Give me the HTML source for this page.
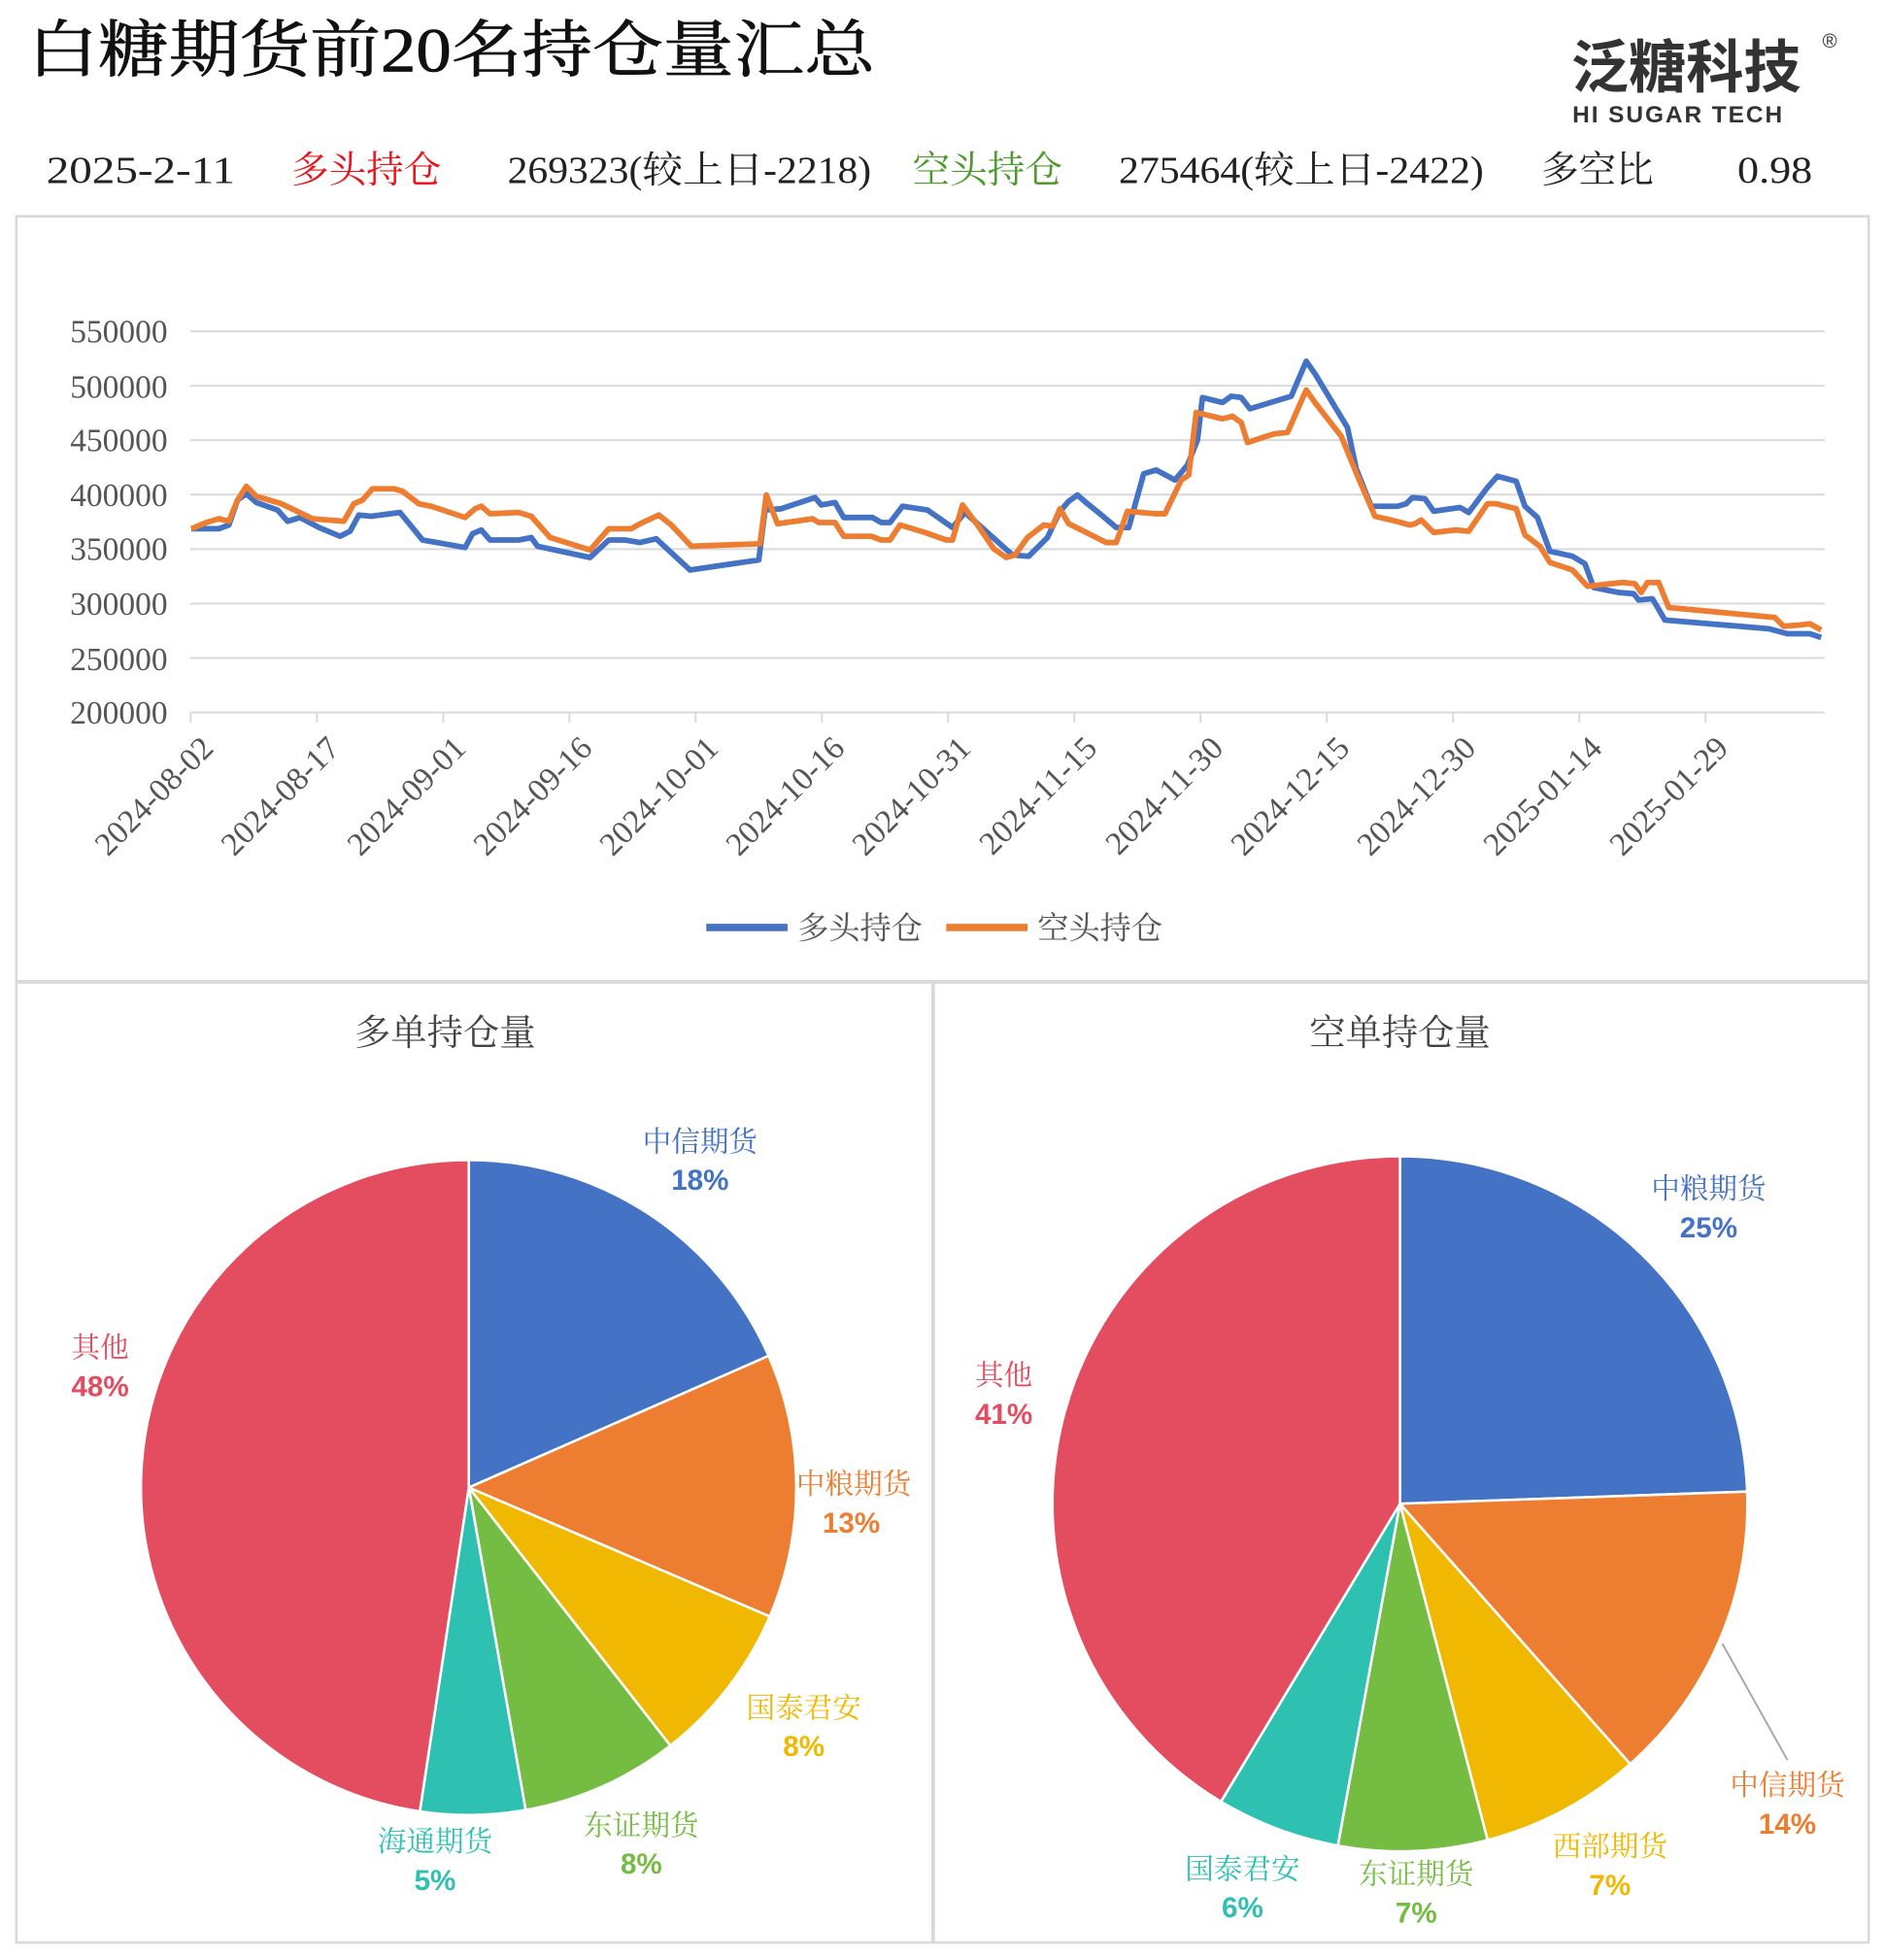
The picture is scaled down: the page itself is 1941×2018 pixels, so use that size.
<!DOCTYPE html>
<html><head><meta charset="utf-8"><style>
html,body{margin:0;padding:0;background:#fff;}
svg{display:block;}
text{font-family:"Liberation Serif","Noto Serif CJK SC","Noto Sans CJK SC",serif;}
.s{font-family:"Liberation Sans","Noto Sans CJK SC",sans-serif;}
</style></head><body>
<svg width="1941" height="2018" viewBox="0 0 1508 1568" xmlns="http://www.w3.org/2000/svg">
<rect width="1508" height="1568" fill="#fff"/>
<text x="22" y="57" font-size="50" fill="#111" textLength="678" lengthAdjust="spacingAndGlyphs" stroke="#111" stroke-width="0.6">白糖期货前20名持仓量汇总</text>
<text x="1257" y="70" font-size="46" font-weight="bold" fill="#333" class="s">泛糖科技</text>
<text x="1458" y="38" font-size="16" fill="#333" class="s">®</text>
<text x="1258" y="98" font-size="19" font-weight="bold" fill="#333" class="s" letter-spacing="1.5">HI SUGAR TECH</text>
<g font-size="30" fill="#222">
<text x="37" y="146" textLength="151" lengthAdjust="spacingAndGlyphs">2025-2-11</text>
<text x="233" y="146" fill="#e8161b">多头持仓</text>
<text x="406" y="146" textLength="291" lengthAdjust="spacingAndGlyphs">269323(较上日-2218)</text>
<text x="730" y="146" fill="#4f9a2e">空头持仓</text>
<text x="895" y="146" textLength="292" lengthAdjust="spacingAndGlyphs">275464(较上日-2422)</text>
<text x="1233" y="146">多空比</text>
<text x="1390" y="146" textLength="60" lengthAdjust="spacingAndGlyphs">0.98</text>
</g>
<g fill="none" stroke="#d9d9d9" stroke-width="2">
<rect x="13" y="173" width="1482" height="612"/>
<rect x="13" y="786" width="733" height="768"/>
<rect x="747" y="786" width="748" height="768"/>
</g>
<g stroke="#d9d9d9" stroke-width="1.5">
<line x1="152" y1="265" x2="1460" y2="265"/><line x1="152" y1="308.6" x2="1460" y2="308.6"/>
<line x1="152" y1="352.1" x2="1460" y2="352.1"/><line x1="152" y1="395.7" x2="1460" y2="395.7"/>
<line x1="152" y1="439.3" x2="1460" y2="439.3"/><line x1="152" y1="482.9" x2="1460" y2="482.9"/>
<line x1="152" y1="526.4" x2="1460" y2="526.4"/><line x1="152" y1="570" x2="1460" y2="570"/>
<path d="M152.5 570v8M253.5 570v8M354.5 570v8M455.5 570v8M556.5 570v8M657.5 570v8M758.5 570v8M859.5 570v8M960.5 570v8M1061.5 570v8M1162.5 570v8M1263.5 570v8M1364.5 570v8" fill="none"/>
</g>
<g class="s" font-size="26" fill="#555" text-anchor="end" font-family="Liberation Sans, sans-serif">
<text x="134" y="274">550000</text><text x="134" y="318">500000</text><text x="134" y="361">450000</text>
<text x="134" y="405">400000</text><text x="134" y="448">350000</text><text x="134" y="492">300000</text>
<text x="134" y="536">250000</text><text x="134" y="579">200000</text>
</g>
<g font-size="26" fill="#555" text-anchor="end" font-family="Liberation Sans, sans-serif">
<text transform="translate(172,600) rotate(-45)">2024-08-02</text>
<text transform="translate(273,600) rotate(-45)">2024-08-17</text>
<text transform="translate(374,600) rotate(-45)">2024-09-01</text>
<text transform="translate(475,600) rotate(-45)">2024-09-16</text>
<text transform="translate(576,600) rotate(-45)">2024-10-01</text>
<text transform="translate(677,600) rotate(-45)">2024-10-16</text>
<text transform="translate(778,600) rotate(-45)">2024-10-31</text>
<text transform="translate(879,600) rotate(-45)">2024-11-15</text>
<text transform="translate(980,600) rotate(-45)">2024-11-30</text>
<text transform="translate(1081,600) rotate(-45)">2024-12-15</text>
<text transform="translate(1182,600) rotate(-45)">2024-12-30</text>
<text transform="translate(1283,600) rotate(-45)">2025-01-14</text>
<text transform="translate(1384,600) rotate(-45)">2025-01-29</text>
</g>
<polyline fill="none" stroke="#4472c4" stroke-width="4.5" stroke-linejoin="round" points="153,423 175,423 183,420 190,400 197,395 205,402 222,408 230,417 240,414 255,422 272,429 280,425 287,412 297,413 320,410 338,432 372,438 378,427 385,424 392,432 415,432 425,430 430,437 472,446 487,432 500,432 512,434 525,431 552,456 607,448 612,408 625,407 652,398 657,404 668,402 675,414 698,414 705,418 712,418 722,405 742,408 762,422 772,410 791,427 810,444 823,445 838,430 848,409 855,401 862,396 870,403 880,411 893,422 903,422 915,379 925,376 940,384 950,372 958,352 962,318 978,322 985,317 993,318 1000,327 1033,317 1045,289 1052,299 1078,342 1085,375 1097,405 1118,405 1125,403 1130,398 1140,399 1147,409 1168,406 1175,410 1190,390 1198,381 1213,385 1220,405 1230,414 1240,441 1258,445 1268,451 1275,470 1295,474 1307,475 1311,480 1322,479 1332,496 1415,503 1430,507 1448,507 1457,510"/>
<polyline fill="none" stroke="#ed7d31" stroke-width="4.5" stroke-linejoin="round" points="153,423 165,418 175,415 183,417 190,400 197,389 205,397 225,403 250,415 262,416 275,417 283,403 290,400 298,391 315,391 322,393 335,403 345,405 372,414 380,407 385,405 392,411 415,410 425,413 440,430 472,440 487,423 505,423 512,419 527,412 537,420 553,437 608,435 613,396 622,419 650,415 655,418 668,418 675,429 697,429 705,432 712,432 720,420 740,426 757,432 762,432 770,404 782,420 795,439 805,446 812,444 822,430 835,420 842,421 848,407 855,419 867,425 885,434 893,434 902,409 925,411 932,411 945,384 951,380 957,330 978,335 986,333 993,338 998,354 1010,350 1020,347 1030,346 1045,312 1052,322 1073,349 1087,383 1100,413 1117,417 1128,420 1132,419 1137,416 1147,426 1165,424 1175,425 1190,403 1197,403 1213,407 1220,428 1232,437 1240,450 1258,456 1270,469 1298,466 1308,467 1313,474 1318,466 1327,466 1335,486 1420,494 1427,501 1440,500 1448,499 1457,504"/>
<line x1="565" y1="742" x2="630" y2="742" stroke="#4472c4" stroke-width="6"/>
<text x="638" y="751" font-size="25" fill="#555">多头持仓</text>
<line x1="757" y1="742" x2="822" y2="742" stroke="#ed7d31" stroke-width="6"/>
<text x="830" y="751" font-size="25" fill="#555">空头持仓</text>

<text x="356" y="836" font-size="29" fill="#444" text-anchor="middle">多单持仓量</text>
<text x="1120" y="836" font-size="29" fill="#444" text-anchor="middle">空单持仓量</text>

<g stroke="#fff" stroke-width="2">
<path d="M375 1190 L375 928 A262 262 0 0 1 614.9 1084.7Z" fill="#4472c4"/>
<path d="M375 1190 L614.9 1084.7 A262 262 0 0 1 615.8 1293.2Z" fill="#ed7d31"/>
<path d="M375 1190 L615.8 1293.2 A262 262 0 0 1 536.3 1396.5Z" fill="#f0b800"/>
<path d="M375 1190 L536.3 1396.5 A262 262 0 0 1 420.5 1448Z" fill="#75bc43"/>
<path d="M375 1190 L420.5 1448 A262 262 0 0 1 335.8 1449.1Z" fill="#2ec1b2"/>
<path d="M375 1190 L335.8 1449.1 A262 262 0 0 1 375 928Z" fill="#e44c5f"/>
<path d="M1120 1203 L1120 925 A278 278 0 0 1 1397.8 1193.3Z" fill="#4472c4"/>
<path d="M1120 1203 L1397.8 1193.3 A278 278 0 0 1 1304.2 1411.2Z" fill="#ed7d31"/>
<path d="M1120 1203 L1304.2 1411.2 A278 278 0 0 1 1190.1 1472Z" fill="#f0b800"/>
<path d="M1120 1203 L1190.1 1472 A278 278 0 0 1 1070.3 1476.5Z" fill="#75bc43"/>
<path d="M1120 1203 L1070.3 1476.5 A278 278 0 0 1 976.8 1441.3Z" fill="#2ec1b2"/>
<path d="M1120 1203 L976.8 1441.3 A278 278 0 0 1 1120 925Z" fill="#e44c5f"/>
</g>
<line x1="1378" y1="1315" x2="1430" y2="1408" stroke="#a6a6a6" stroke-width="1.5"/>
<g font-size="23" text-anchor="middle">
<g fill="#4472c4"><text x="560" y="921">中信期货</text><text x="560" y="952" font-weight="bold" class="s">18%</text>
<text x="1367" y="959">中粮期货</text><text x="1367" y="990" font-weight="bold" class="s">25%</text></g>
<g fill="#ed7d31"><text x="683" y="1195">中粮期货</text><text x="681" y="1226" font-weight="bold" class="s">13%</text>
<text x="1430" y="1436">中信期货</text><text x="1430" y="1467" font-weight="bold" class="s">14%</text></g>
<g fill="#f0b800"><text x="643" y="1374">国泰君安</text><text x="643" y="1405" font-weight="bold" class="s">8%</text>
<text x="1288" y="1485">西部期货</text><text x="1288" y="1516" font-weight="bold" class="s">7%</text></g>
<g fill="#75bc43"><text x="513" y="1468">东证期货</text><text x="513" y="1499" font-weight="bold" class="s">8%</text>
<text x="1133" y="1507">东证期货</text><text x="1133" y="1538" font-weight="bold" class="s">7%</text></g>
<g fill="#2ec1b2"><text x="348" y="1481">海通期货</text><text x="348" y="1512" font-weight="bold" class="s">5%</text>
<text x="994" y="1503">国泰君安</text><text x="994" y="1534" font-weight="bold" class="s">6%</text></g>
<g fill="#e44c5f"><text x="80" y="1086">其他</text><text x="80" y="1117" font-weight="bold" class="s">48%</text>
<text x="803" y="1108">其他</text><text x="803" y="1139" font-weight="bold" class="s">41%</text></g>
</g>
</svg>
</body></html>
